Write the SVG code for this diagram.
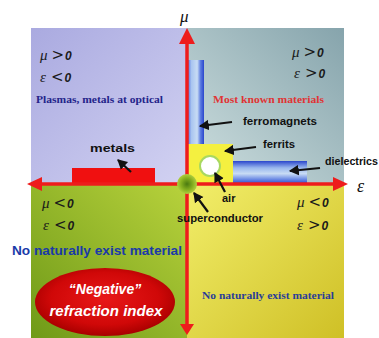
<svg xmlns="http://www.w3.org/2000/svg" width="379" height="338" viewBox="0 0 379 338">
<style>
.sym{font-family:"Liberation Serif",serif;font-style:italic;font-size:15px;fill:#1a1a1a}
.op{font-family:"DejaVu Sans",sans-serif;font-size:15px;fill:#1a1a1a}
.num{font-family:"Liberation Sans",sans-serif;font-weight:bold;font-style:italic;font-size:12px;fill:#1a1a1a}
.lbl{font-family:"Liberation Sans",sans-serif;font-weight:bold;font-size:11px;fill:#111}
.ser{font-family:"Liberation Serif",serif;font-weight:bold;font-size:11px}
.lead{stroke:#111;stroke-width:2.2;fill:none;marker-end:url(#ah)}
.axis{stroke:#ee1c1c;stroke-width:3.5;fill:none}
.ahead{fill:#ee1c1c}
</style>
<defs>
<marker id="ah" markerWidth="6" markerHeight="6" refX="4" refY="3" orient="auto" markerUnits="strokeWidth">
<path d="M0,0.6 L4.5,3 L0,5.4 Z" fill="#111"/>
</marker>
<linearGradient id="gTL" x1="0" y1="0" x2="1" y2="1">
<stop offset="0" stop-color="#aaaae0"/><stop offset="1" stop-color="#d2d2f2"/>
</linearGradient>
<linearGradient id="gTR" x1="1" y1="0" x2="0" y2="1">
<stop offset="0" stop-color="#86a4ac"/><stop offset="1" stop-color="#cfe0e0"/>
</linearGradient>
<linearGradient id="gBL" x1="0" y1="1" x2="1" y2="0">
<stop offset="0" stop-color="#6f9a18"/><stop offset="1" stop-color="#b8d23c"/>
</linearGradient>
<linearGradient id="gBR" x1="1" y1="1" x2="0" y2="0">
<stop offset="0" stop-color="#cfc026"/><stop offset="1" stop-color="#f2ee6a"/>
</linearGradient>
<linearGradient id="gV" x1="0" y1="0" x2="1" y2="0">
<stop offset="0" stop-color="#3a5ad8"/><stop offset="0.25" stop-color="#a8c4f0"/><stop offset="0.6" stop-color="#c8dcf4"/><stop offset="0.8" stop-color="#5a7ae0"/><stop offset="1" stop-color="#2a46cc"/>
</linearGradient>
<linearGradient id="gH" x1="0" y1="0" x2="0" y2="1">
<stop offset="0" stop-color="#2a46cc"/><stop offset="0.3" stop-color="#9ab8ee"/><stop offset="0.55" stop-color="#c8dcf4"/><stop offset="0.8" stop-color="#6a88e4"/><stop offset="1" stop-color="#2a46cc"/>
</linearGradient>
<radialGradient id="gEl" cx="0.5" cy="0.45" r="0.55">
<stop offset="0" stop-color="#e81818"/><stop offset="0.7" stop-color="#d00808"/><stop offset="1" stop-color="#a80000"/>
</radialGradient>
<radialGradient id="gSc" cx="0.5" cy="0.5" r="0.5">
<stop offset="0" stop-color="#4a7a10"/><stop offset="0.6" stop-color="#86b020"/><stop offset="1" stop-color="#b0d040"/>
</radialGradient>
</defs>

<g id="quadrants">
<rect x="31" y="28" width="156" height="156" fill="url(#gTL)"/>
<rect x="187" y="28" width="157" height="156" fill="url(#gTR)"/>
<rect x="31" y="184" width="156" height="154" fill="url(#gBL)"/>
<rect x="187" y="184" width="157" height="154" fill="url(#gBR)"/>
</g>

<g id="q-top-left">
<text x="40" y="60"><tspan class="sym">μ</tspan><tspan class="op" dx="4">&gt;</tspan><tspan class="num" dx="1">0</tspan></text>
<text x="40" y="82"><tspan class="sym">ε</tspan><tspan class="op" dx="5">&lt;</tspan><tspan class="num" dx="1">0</tspan></text>
<text x="36" y="103" class="ser" fill="#24248a" textLength="127" lengthAdjust="spacingAndGlyphs">Plasmas, metals at optical</text>
</g>

<g id="q-top-right">
<text x="292" y="57"><tspan class="sym">μ</tspan><tspan class="op" dx="4">&gt;</tspan><tspan class="num" dx="1">0</tspan></text>
<text x="294" y="78"><tspan class="sym">ε</tspan><tspan class="op" dx="5">&gt;</tspan><tspan class="num" dx="1">0</tspan></text>
<text x="213" y="103" class="ser" fill="#e03434" textLength="111" lengthAdjust="spacingAndGlyphs">Most known materials</text>
</g>

<g id="q-bottom-left">
<text x="42" y="208"><tspan class="sym">μ</tspan><tspan class="op" dx="4">&lt;</tspan><tspan class="num" dx="1">0</tspan></text>
<text x="43" y="230"><tspan class="sym">ε</tspan><tspan class="op" dx="5">&lt;</tspan><tspan class="num" dx="1">0</tspan></text>
<text x="12" y="255" font-family="Liberation Sans, sans-serif" font-weight="bold" font-size="12" fill="#1a3aa8" textLength="170" lengthAdjust="spacingAndGlyphs">No naturally exist material</text>
</g>

<g id="q-bottom-right">
<text x="297" y="207"><tspan class="sym">μ</tspan><tspan class="op" dx="4">&lt;</tspan><tspan class="num" dx="1">0</tspan></text>
<text x="297" y="230"><tspan class="sym">ε</tspan><tspan class="op" dx="5">&gt;</tspan><tspan class="num" dx="1">0</tspan></text>
<text x="202" y="299" class="ser" fill="#2a3e98" textLength="132" lengthAdjust="spacingAndGlyphs">No naturally exist material</text>
</g>

<g id="negative-index">
<ellipse cx="105" cy="302" rx="70" ry="34" fill="url(#gEl)"/>
<text x="105" y="294" text-anchor="middle" font-family="Liberation Sans, sans-serif" font-weight="bold" font-style="italic" font-size="14" fill="#fff">“Negative”</text>
<text x="106" y="316" text-anchor="middle" font-family="Liberation Sans, sans-serif" font-weight="bold" font-style="italic" font-size="14" fill="#fff" textLength="113" lengthAdjust="spacingAndGlyphs">refraction index</text>
</g>

<g id="metals">
<rect x="72" y="168" width="83" height="16" fill="#f01010"/>
<text x="90" y="152" class="lbl" textLength="45" lengthAdjust="spacingAndGlyphs">metals</text>
</g>

<g id="ferromagnets">
<rect x="187" y="60" width="17" height="84" fill="url(#gV)"/>
<text x="243" y="125" class="lbl" textLength="74" lengthAdjust="spacingAndGlyphs">ferromagnets</text>
</g>

<g id="ferrits">
<rect x="187" y="144" width="46" height="40" fill="#f4f040"/>
<text x="263" y="148" class="lbl" textLength="32" lengthAdjust="spacingAndGlyphs">ferrits</text>
</g>

<g id="dielectrics">
<rect x="233" y="161" width="74" height="23" fill="url(#gH)"/>
<text x="325" y="165" class="lbl" textLength="53" lengthAdjust="spacingAndGlyphs">dielectrics</text>
</g>

<g id="air">
<circle cx="210" cy="166" r="10" fill="#fff" stroke="#a8d860" stroke-width="2"/>
<text x="222" y="202" class="lbl">air</text>
</g>

<g id="connectors">
<line class="axis" x1="187" y1="40" x2="187" y2="326"/>
<line class="axis" x1="40" y1="184" x2="335" y2="184"/>
<polygon class="ahead" points="187,28 179,44 195,44"/>
<polygon class="ahead" points="187,335 180,324 194,324"/>
<polygon class="ahead" points="27,184 42,177 42,191"/>
<polygon class="ahead" points="348,184 333,177 333,191"/>
<line class="lead" x1="131" y1="172" x2="118" y2="160"/>
<line class="lead" x1="232" y1="122" x2="200" y2="126"/>
<line class="lead" x1="256" y1="147" x2="225" y2="151"/>
<line class="lead" x1="320" y1="168" x2="290" y2="171"/>
<line class="lead" x1="225" y1="192" x2="215" y2="173"/>
</g>

<g id="superconductor">
<circle cx="187" cy="184" r="10" fill="url(#gSc)"/>
<text x="177" y="222" class="lbl" textLength="86" lengthAdjust="spacingAndGlyphs">superconductor</text>
<line class="lead" x1="208" y1="212" x2="194" y2="193"/>
</g>

<g id="axis-labels">
<text x="180" y="22" font-family="Liberation Serif, serif" font-style="italic" font-size="17" fill="#111">μ</text>
<text x="357" y="192" font-family="Liberation Serif, serif" font-style="italic" font-size="18" fill="#111">ε</text>
</g>
</svg>
